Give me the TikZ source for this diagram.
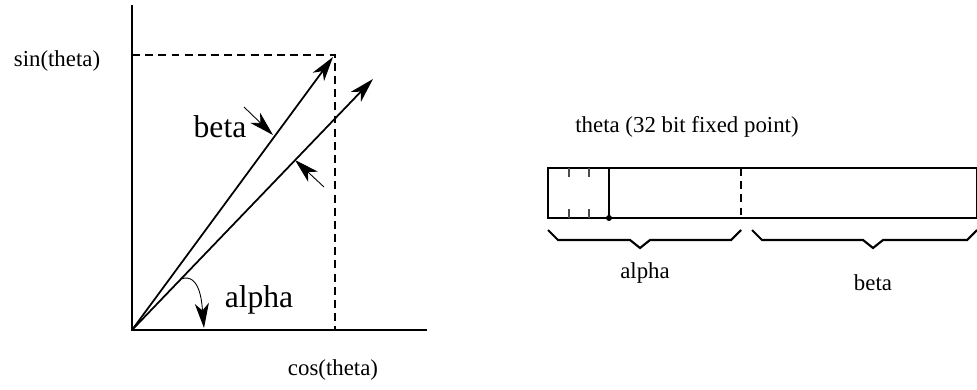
\documentclass[tikz,border=0pt]{standalone}
\usepackage{fontspec}
\setmainfont{Liberation Serif}
\usetikzlibrary{arrows.meta}
\begin{document}
\begin{tikzpicture}[x=0.02cm, y=-0.02cm, >={Stealth[length=14pt,width=8pt,inset=4pt]},
    line width=1pt,
    lbl/.style={font=\fontsize{13}{15}\selectfont},
    biglbl/.style={font=\fontsize{18}{20}\selectfont},
    dsh/.style={dash pattern=on 4.5pt off 3pt, line width=0.7pt},
    thin arrow/.style={->, line width=0.5pt},
    brace/.style={line width=1.2pt}]
    \useasboundingbox (0,0) rectangle (977,389);

    % 軸
    \coordinate (O) at (132,330);
    \coordinate (ytop) at (132,5);
    \coordinate (xend) at (427,330);
    \draw (ytop) -- (O) -- (xend);
    \coordinate (P) at (335,55);
    \draw[dsh] (O |- P) -- (P) -- (P |- O);
    \node[lbl] (sinl) at (57,61) {sin(theta)};
    \node[lbl] (cosl) at (333,370) {cos(theta)};

    % ベクトル
    \coordinate (A) at (333,57);
    \coordinate (B) at (373,79);
    \draw[->] (O) -- (A);
    \draw[->] (O) -- (B);

    % 角度の矢印
    \coordinate (b1) at (244,107);
    \coordinate (b2) at (273,135);
    \coordinate (c1) at (324,187);
    \coordinate (c2) at (295,160);
    \draw[thin arrow] (b1) -- (b2);
    \draw[thin arrow] (c1) -- (c2);
    \node[biglbl] (betal) at (220,127) {beta};
    \coordinate (a1) at (181,279);
    \coordinate (a2) at (204,328);
    \draw[thin arrow] (a1) to[out=20, in=95] (a2);
    \node[biglbl] (alphal) at (259,300) {alpha};

    % 32ビットのレジスタ
    \node[lbl] (title) at (687,127) {theta (32 bit fixed point)};
    \coordinate (R1) at (548,168);
    \coordinate (R2) at (977,218);
    \draw[line width=0.8pt] (R1) rectangle (R2);
    \foreach \t in {569,589} {
      \draw[line width=0.6pt, black!70] (\t,168) -- (\t,177);
      \draw[line width=0.6pt, black!70] (\t,209) -- (\t,218);
    }
    \coordinate (pt) at (609,218);
    \draw[line width=0.8pt] (609,168) -- (pt);
    \fill (pt) circle (3);
    \draw[dsh] (741,168) -- (741,218);

    % 中括弧
    \draw[brace] (548,230) -- (558,240) -- (630,240) -- (640,248) -- (650,240) -- (731,240) -- (741,230);
    \draw[brace] (752,230) -- (762,240) -- (863,240) -- (873,248) -- (883,240) -- (967,240) -- (977,230);
    \node[lbl] (alphar) at (645,273) {alpha};
    \node[lbl] (betar) at (873,283) {beta};
\end{tikzpicture}
\end{document}
